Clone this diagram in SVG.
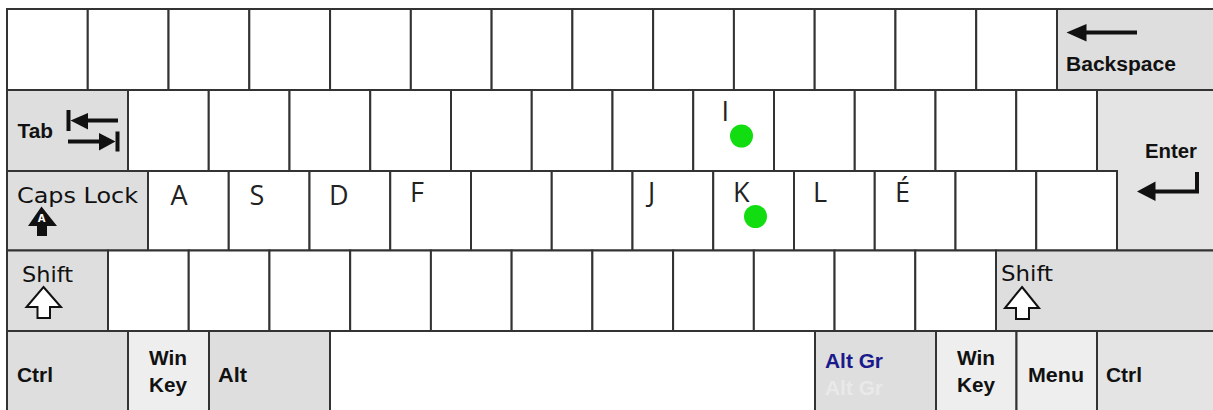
<svg xmlns="http://www.w3.org/2000/svg" width="1213" height="410" viewBox="0 0 1213 410">
<style>
.k{fill:#ffffff;stroke:#333333;stroke-width:2}
.m{fill:#dedede;stroke:#333333;stroke-width:2}
.e{fill:#e4e4e4;stroke:#333333;stroke-width:2}
.w{fill:#eeeeee;stroke:#333333;stroke-width:2}
.b{font-family:"Liberation Sans",Arial,sans-serif;font-weight:bold;font-size:20px;fill:#111111}
.d{font-family:"DejaVu Sans",Verdana,sans-serif;font-size:21px;fill:#111111}
.l{font-family:"Open Sans","DejaVu Sans",sans-serif;font-size:27px;fill:#222222}
.dot{fill:#11dd11}
.ic{fill:#111111;stroke:none}
.io{fill:#ffffff;stroke:#111111;stroke-width:2;stroke-linejoin:miter}
</style>
<rect width="1213" height="410" fill="#ffffff"/>

<!-- Row 1 -->
<g id="r1">
<g id="k1-1"><rect class="k" x="7" y="9" width="80.77" height="81"/></g>
<g id="k1-2"><rect class="k" x="87.77" y="9" width="80.77" height="81"/></g>
<g id="k1-3"><rect class="k" x="168.54" y="9" width="80.77" height="81"/></g>
<g id="k1-4"><rect class="k" x="249.31" y="9" width="80.77" height="81"/></g>
<g id="k1-5"><rect class="k" x="330.08" y="9" width="80.77" height="81"/></g>
<g id="k1-6"><rect class="k" x="410.85" y="9" width="80.77" height="81"/></g>
<g id="k1-7"><rect class="k" x="491.62" y="9" width="80.77" height="81"/></g>
<g id="k1-8"><rect class="k" x="572.38" y="9" width="80.77" height="81"/></g>
<g id="k1-9"><rect class="k" x="653.15" y="9" width="80.77" height="81"/></g>
<g id="k1-10"><rect class="k" x="733.92" y="9" width="80.77" height="81"/></g>
<g id="k1-11"><rect class="k" x="814.69" y="9" width="80.77" height="81"/></g>
<g id="k1-12"><rect class="k" x="895.46" y="9" width="80.77" height="81"/></g>
<g id="k1-13"><rect class="k" x="976.23" y="9" width="80.77" height="81"/></g>
<g id="backspace"><rect class="m" x="1057" y="9" width="160" height="81"/>
<path class="ic" d="M1066.5,32.5 L1086.5,24 L1086.5,30.5 L1137,30.5 L1137,34.5 L1086.5,34.5 L1086.5,41.5 Z"/>
<text class="b" x="1066" y="71" textLength="110" lengthAdjust="spacingAndGlyphs">Backspace</text></g>
</g>

<!-- Row 2 -->
<g id="r2">
<g id="tab"><rect class="m" x="7" y="90" width="121" height="81"/>
<text class="b" x="17.5" y="138" textLength="35.5" lengthAdjust="spacingAndGlyphs">Tab</text>
<rect class="ic" x="66.5" y="110" width="4" height="21"/>
<path class="ic" d="M70.5,120.5 L88,113 L88,118.5 L118,118.5 L118,122.5 L88,122.5 L88,129.5 Z"/>
<rect class="ic" x="115.5" y="131.5" width="4" height="20"/>
<path class="ic" d="M115.5,141.5 L99,133 L99,139.5 L68,139.5 L68,143.5 L99,143.5 L99,150.5 Z"/></g>
<g id="k2-1"><rect class="k" x="128" y="90" width="80.75" height="81"/></g>
<g id="k2-2"><rect class="k" x="208.75" y="90" width="80.75" height="81"/></g>
<g id="k2-3"><rect class="k" x="289.5" y="90" width="80.75" height="81"/></g>
<g id="k2-4"><rect class="k" x="370.25" y="90" width="80.75" height="81"/></g>
<g id="k2-5"><rect class="k" x="451" y="90" width="80.75" height="81"/></g>
<g id="k2-6"><rect class="k" x="531.75" y="90" width="80.75" height="81"/></g>
<g id="k2-7"><rect class="k" x="612.5" y="90" width="80.75" height="81"/></g>
<g id="k2-8"><rect class="k" x="693.25" y="90" width="80.75" height="81"/>
<text class="l" x="721.5" y="121">I</text>
<circle class="dot" cx="741.5" cy="136" r="11.5"/></g>
<g id="k2-9"><rect class="k" x="774" y="90" width="80.75" height="81"/></g>
<g id="k2-10"><rect class="k" x="854.75" y="90" width="80.75" height="81"/></g>
<g id="k2-11"><rect class="k" x="935.5" y="90" width="80.75" height="81"/></g>
<g id="k2-12"><rect class="k" x="1016.25" y="90" width="80.75" height="81"/></g>
</g>

<!-- Row 3 -->
<g id="r3">
<g id="capslock"><rect class="m" x="7" y="171" width="141" height="79.5"/>
<text class="d" x="17" y="203" textLength="121" lengthAdjust="spacingAndGlyphs">Caps Lock</text>
<path class="ic" d="M41.5,206.5 L57,226 L47,226 L47,236 L37,236 L37,226 L28,226 Z"/>
<text x="41.5" y="222" text-anchor="middle" font-family="'DejaVu Sans',sans-serif" font-size="10" font-weight="bold" fill="#ffffff">A</text></g>
<g id="k3-1"><rect class="k" x="148" y="171" width="80.75" height="79.5"/><text class="l" x="170.5" y="205">A</text></g>
<g id="k3-2"><rect class="k" x="228.75" y="171" width="80.75" height="79.5"/><text class="l" x="249.5" y="205">S</text></g>
<g id="k3-3"><rect class="k" x="309.5" y="171" width="80.75" height="79.5"/><text class="l" x="329" y="205">D</text></g>
<g id="k3-4"><rect class="k" x="390.25" y="171" width="80.75" height="79.5"/><text class="l" x="410" y="202">F</text></g>
<g id="k3-5"><rect class="k" x="471" y="171" width="80.75" height="79.5"/></g>
<g id="k3-6"><rect class="k" x="551.75" y="171" width="80.75" height="79.5"/></g>
<g id="k3-7"><rect class="k" x="632.5" y="171" width="80.75" height="79.5"/><text class="l" x="648" y="202">J</text></g>
<g id="k3-8"><rect class="k" x="713.25" y="171" width="80.75" height="79.5"/><text class="l" x="733" y="202">K</text>
<circle class="dot" cx="755.5" cy="216.5" r="11.5"/></g>
<g id="k3-9"><rect class="k" x="794" y="171" width="80.75" height="79.5"/><text class="l" x="813" y="202">L</text></g>
<g id="k3-10"><rect class="k" x="874.75" y="171" width="80.75" height="79.5"/><text class="l" x="895" y="202">É</text></g>
<g id="k3-11"><rect class="k" x="955.5" y="171" width="80.75" height="79.5"/></g>
<g id="k3-12"><rect class="k" x="1036.25" y="171" width="80.75" height="79.5"/></g>
</g>

<g id="enter"><path class="e" d="M1097,90 H1217 V250.5 H1117 V171 H1097 Z"/>
<text class="b" x="1145" y="158" textLength="52" lengthAdjust="spacingAndGlyphs">Enter</text>
<path class="ic" d="M1137,191.5 L1155.5,181.5 L1155.5,189.5 L1195,189.5 L1195,172 L1199,172 L1199,193.5 L1155.5,193.5 L1155.5,201 Z"/></g>

<!-- Row 4 -->
<g id="r4">
<g id="shift-left"><rect class="m" x="7" y="250.5" width="101" height="80.5"/>
<text class="d" x="22" y="282" textLength="51" lengthAdjust="spacingAndGlyphs">Shift</text>
<path class="io" d="M43.5,287 L61,307 L50,307 L50,318 L37.5,318 L37.5,307 L26.5,307 Z"/></g>
<g id="k4-1"><rect class="k" x="108" y="250.5" width="80.73" height="80.5"/></g>
<g id="k4-2"><rect class="k" x="188.73" y="250.5" width="80.73" height="80.5"/></g>
<g id="k4-3"><rect class="k" x="269.46" y="250.5" width="80.73" height="80.5"/></g>
<g id="k4-4"><rect class="k" x="350.19" y="250.5" width="80.73" height="80.5"/></g>
<g id="k4-5"><rect class="k" x="430.92" y="250.5" width="80.73" height="80.5"/></g>
<g id="k4-6"><rect class="k" x="511.65" y="250.5" width="80.73" height="80.5"/></g>
<g id="k4-7"><rect class="k" x="592.38" y="250.5" width="80.73" height="80.5"/></g>
<g id="k4-8"><rect class="k" x="673.11" y="250.5" width="80.73" height="80.5"/></g>
<g id="k4-9"><rect class="k" x="753.84" y="250.5" width="80.73" height="80.5"/></g>
<g id="k4-10"><rect class="k" x="834.57" y="250.5" width="80.73" height="80.5"/></g>
<g id="k4-11"><rect class="k" x="915.3" y="250.5" width="80.7" height="80.5"/></g>
<g id="shift-right"><rect class="m" x="996" y="250.5" width="221" height="80.5"/>
<text class="d" x="1001" y="281" textLength="52" lengthAdjust="spacingAndGlyphs">Shift</text>
<path class="io" d="M1022,287 L1039,308 L1029,308 L1029,319 L1016,319 L1016,308 L1005,308 Z"/></g>
</g>

<!-- Row 5 -->
<g id="r5">
<g id="ctrl-left"><rect class="m" x="7" y="331" width="121" height="82"/>
<text class="b" x="17" y="381.5" textLength="36" lengthAdjust="spacingAndGlyphs">Ctrl</text></g>
<g id="win-left"><rect class="w" x="128" y="331" width="81" height="82"/>
<text class="b" x="149" y="365" textLength="38" lengthAdjust="spacingAndGlyphs">Win</text>
<text class="b" x="149" y="392" textLength="38" lengthAdjust="spacingAndGlyphs">Key</text></g>
<g id="alt"><rect class="m" x="209" y="331" width="121" height="82"/>
<text class="b" x="218" y="381.5" textLength="29" lengthAdjust="spacingAndGlyphs">Alt</text></g>
<g id="space"><rect class="k" x="330" y="331" width="485" height="82"/></g>
<g id="altgr"><rect class="m" x="815" y="331" width="121" height="82"/>
<text class="b" x="825" y="368" textLength="58" lengthAdjust="spacingAndGlyphs" style="fill:#1a1a8c">Alt Gr</text>
<text class="b" x="825" y="395" textLength="58" lengthAdjust="spacingAndGlyphs" style="fill:#e9e9e9">Alt Gr</text></g>
<g id="win-right"><rect class="w" x="936" y="331" width="80.5" height="82"/>
<text class="b" x="957" y="365" textLength="38" lengthAdjust="spacingAndGlyphs">Win</text>
<text class="b" x="957" y="392" textLength="38" lengthAdjust="spacingAndGlyphs">Key</text></g>
<g id="menu"><rect class="w" x="1016.5" y="331" width="80.5" height="82"/>
<text class="b" x="1028" y="381.5" textLength="56" lengthAdjust="spacingAndGlyphs">Menu</text></g>
<g id="ctrl-right"><rect class="e" x="1097" y="331" width="120" height="82"/>
<text class="b" x="1106" y="381.5" textLength="36" lengthAdjust="spacingAndGlyphs">Ctrl</text></g>
</g>
<g id="connectors"/>
</svg>
